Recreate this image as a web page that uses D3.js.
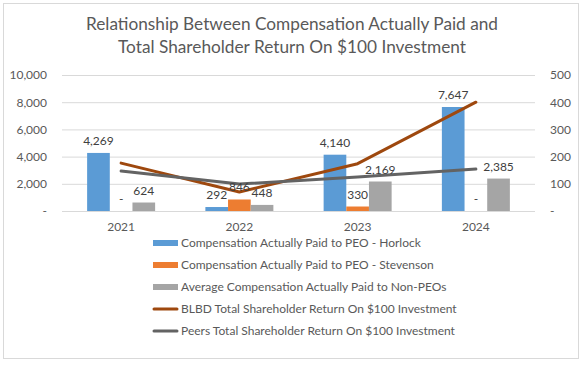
<!DOCTYPE html>
<html><head><meta charset="utf-8">
<script src="https://cdn.jsdelivr.net/npm/d3@7"></script>
<style>body{margin:0;background:#fff}svg{display:block}text{font-family:Lato,"Open Sans",sans-serif}</style>
</head><body><svg id="c" width="582" height="365"></svg>
<script>
const years = ["2021","2022","2023","2024"];
const horlock = [4269, 292, 4140, 7647];
const stevenson = [0, 846, 330, 0];
const nonPeo = [624, 448, 2169, 2385];
const blbdTSR = [176, 70, 174, 400];
const peersTSR = [147, 99, 125, 154];
const leftTicks = [0, 2000, 4000, 6000, 8000, 10000];
const rightTicks = [0, 100, 200, 300, 400, 500];
const titleLines = ["Relationship Between Compensation Actually Paid and", "Total Shareholder Return On $100 Investment"];

const barSeries = [
  {name:"Compensation Actually Paid to PEO - Horlock", values:horlock, color:"#5B9BD5"},
  {name:"Compensation Actually Paid to PEO - Stevenson", values:stevenson, color:"#ED7D31"},
  {name:"Average Compensation Actually Paid to Non-PEOs", values:nonPeo, color:"#A5A5A5"}
];
const lineSeries = [
  {name:"BLBD Total Shareholder Return On $100 Investment", values:blbdTSR, color:"#9E480E"},
  {name:"Peers Total Shareholder Return On $100 Investment", values:peersTSR, color:"#636363"}
];

const svg = d3.select("#c");
const fmt = v => v === 0 ? "-" : d3.format(",")(v);

svg.append("rect").attr("x",3.5).attr("y",3.5).attr("width",575).attr("height",355)
  .attr("fill","#fff").attr("stroke","#D9D9D9");

const titleWidths = [412, 348];
svg.selectAll(".title").data(titleLines).join("text")
  .attr("x",292).attr("y",(d,i)=>30+i*23).attr("text-anchor","middle")
  .attr("font-size",18).attr("fill","#595959")
  .attr("textLength",(d,i)=>titleWidths[i]).attr("lengthAdjust","spacingAndGlyphs")
  .text(d=>d);

const x = d3.scaleBand().domain(years).range([62,535]).padding(0);
const sub = d3.scaleBand().domain(barSeries.map(d=>d.name)).range([-34,34]);
const yL = d3.scaleLinear().domain([0,10000]).range([211,75]);
const yR = d3.scaleLinear().domain([0,500]).range([211,75]);

// gridlines
svg.append("g").selectAll("line").data(leftTicks).join("line")
  .attr("x1",62).attr("x2",535).attr("y1",d=>yL(d)+0.5).attr("y2",d=>yL(d)+0.5)
  .attr("stroke","#D9D9D9").attr("stroke-width",1);

// left axis
const axL = d3.axisLeft(yL).tickValues(leftTicks).tickSize(0).tickPadding(0).tickFormat(fmt);
const gL = svg.append("g").attr("transform","translate(47,0)").call(axL);
gL.select(".domain").remove();
gL.selectAll("text").attr("font-size",12).attr("fill","#595959").attr("font-family","Lato");

const axR = d3.axisRight(yR).tickValues(rightTicks).tickSize(0).tickPadding(0).tickFormat(fmt);
const gR = svg.append("g").attr("transform","translate(550,0)").call(axR);
gR.select(".domain").remove();
gR.selectAll("text").attr("font-size",12).attr("fill","#595959").attr("font-family","Lato");

const axB = d3.axisBottom(x).tickSize(0).tickPadding(0);
const gB = svg.append("g").attr("transform","translate(0,222)").call(axB);
gB.select(".domain").remove();
gB.selectAll("text").attr("font-size",12).attr("fill","#595959").attr("font-family","Lato");

// bars
barSeries.forEach(s=>{
  const g = svg.append("g");
  g.selectAll("rect").data(years).join("rect")
    .attr("x",(d)=>x(d)+x.bandwidth()/2+sub(s.name))
    .attr("width",sub.bandwidth())
    .attr("y",(d,i)=>yL(s.values[i]))
    .attr("height",(d,i)=>yL(0)-yL(s.values[i]))
    .attr("fill",s.color);
});

// lines
const line = d3.line().x((d,i)=>x(years[i])+x.bandwidth()/2).y(d=>yR(d));
lineSeries.forEach(s=>{
  svg.append("path").datum(s.values).attr("d",line).attr("fill","none")
    .attr("stroke",s.color).attr("stroke-width",3).attr("stroke-linecap","round").attr("stroke-linejoin","round");
});

// bar labels
barSeries.forEach(s=>{
  svg.append("g").selectAll("text").data(years).join("text")
    .attr("x",d=>x(d)+x.bandwidth()/2+sub(s.name)+sub.bandwidth()/2)
    .attr("y",(d,i)=>yL(s.values[i])-8)
    .attr("text-anchor","middle").attr("font-size",12).attr("fill","#404040")
    .text((d,i)=>fmt(s.values[i]));
});

// legend
const all = barSeries.map(d=>({...d,type:"bar"})).concat(lineSeries.map(d=>({...d,type:"line"})));
const lg = svg.append("g");
all.forEach((s,i)=>{
  const yy = 243 + i*22;
  if (s.type==="bar") lg.append("rect").attr("x",153).attr("y",yy-3).attr("width",25).attr("height",6).attr("fill",s.color);
  else lg.append("line").attr("x1",154).attr("x2",177).attr("y1",yy).attr("y2",yy).attr("stroke",s.color).attr("stroke-width",3).attr("stroke-linecap","round");
  lg.append("text").attr("x",181).attr("y",yy+4).attr("font-size",12).attr("fill","#595959").text(s.name);
});
</script></body></html>
